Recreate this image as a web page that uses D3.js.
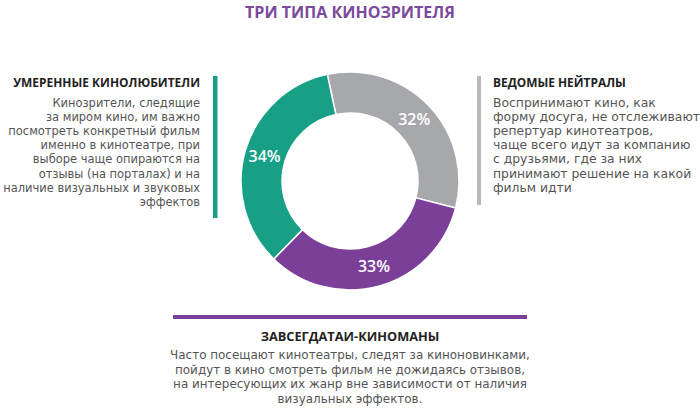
<!DOCTYPE html>
<html><head><meta charset="utf-8">
<script src="https://cdn.jsdelivr.net/npm/d3@7/dist/d3.min.js"></script>
<style>body{margin:0;background:#fff}svg{display:block}</style>
</head><body>
<svg id="c" width="700" height="413"></svg>
<script>
const title = "ТРИ ТИПА КИНОЗРИТЕЛЯ";
const categories = ["Ведомые нейтралы", "Завсегдатаи-киноманы", "Умеренные кинолюбители"];
const values = [32, 33, 34];
const labels = ["32%", "33%", "34%"];
const colors = ["#a7a8ab", "#7b3f99", "#17a086"];
const leftHead = "УМЕРЕННЫЕ КИНОЛЮБИТЕЛИ";
const leftText = ["Кинозрители, следящие","за миром кино, им важно","посмотреть конкретный фильм","именно в кинотеатре, при","выборе чаще опираются на","отзывы (на порталах) и на","наличие визуальных и звуковых","эффектов"];
const rightHead = "ВЕДОМЫЕ НЕЙТРАЛЫ";
const rightText = ["Воспринимают кино, как","форму досуга, не отслеживают","репертуар кинотеатров,","чаще всего идут за компанию","с друзьями, где за них","принимают решение на какой","фильм идти"];
const bottomHead = "ЗАВСЕГДАТАИ-КИНОМАНЫ";
const bottomText = ["Часто посещают кинотеатры, следят за киноновинками,","пойдут в кино смотреть фильм не дожидаясь отзывов,","на интересующих их жанр вне зависимости от наличия","визуальных эффектов."];

const svg = d3.select("#c");
const headFont = "'Open Sans', sans-serif";
const bodyFont = "'DejaVu Sans', sans-serif";
const textCol = "#555555";

// scale font-size of a selection so its widest line equals target width
function fit(sel, target){
  let w = 0;
  sel.each(function(){ w = Math.max(w, this.getComputedTextLength()); });
  const fs = parseFloat(sel.attr("font-size"));
  sel.attr("font-size", fs * target / w);
}

fit(svg.append("text").attr("x",350).attr("y",18).attr("text-anchor","middle")
  .attr("font-family",headFont).attr("font-weight","bold").attr("font-size",17)
  .attr("fill","#7b4a9d").text(title), 210);

const cx = 350, cy = 181, rOut = 109, rIn = 68;
const pie = d3.pie().sort(null).value(d=>d).startAngle(-12*Math.PI/180).endAngle(348*Math.PI/180);
const arc = d3.arc().innerRadius(rIn).outerRadius(rOut);
const lab = d3.arc().innerRadius(89).outerRadius(89);
const g = svg.append("g").attr("transform",`translate(${cx},${cy})`);
const arcs = pie(values);
g.selectAll("path").data(arcs).join("path").attr("d",arc)
  .attr("fill",(d,i)=>colors[i]).attr("stroke","#fff").attr("stroke-width",1.5);
const pl = g.selectAll("text").data(arcs).join("text")
  .attr("transform",d=>`translate(${lab.centroid(d)})`)
  .attr("text-anchor","middle").attr("dy","0.36em")
  .attr("font-family",headFont).attr("font-weight",600).attr("font-size",16)
  .attr("fill","#fff").text((d,i)=>labels[i]);
fit(pl, 32);

// side bars
svg.append("rect").attr("x",213).attr("y",76).attr("width",4.5).attr("height",142).attr("fill",colors[2]);
svg.append("rect").attr("x",477).attr("y",76).attr("width",4).attr("height",129).attr("fill","#b8b9bc");
svg.append("rect").attr("x",173).attr("y",315).attr("width",354).attr("height",4).attr("fill",colors[1]);

function block(x, y0, anchor, head, lines, hw, bw, lh, gap){
  const h = svg.append("text").attr("x",x).attr("y",y0).attr("text-anchor",anchor)
    .attr("font-family",headFont).attr("font-weight","bold").attr("font-size",13)
    .attr("fill","#222").text(head);
  fit(h, hw);
  const b = svg.append("g").selectAll("text").data(lines).join("text")
    .attr("x",x).attr("y",(d,i)=>y0+gap+i*lh).attr("text-anchor",anchor)
    .attr("font-family",bodyFont).attr("font-size",12).attr("fill",textCol).text(d=>d);
  fit(b, bw);
}
block(200, 87, "end", leftHead, leftText, 187, 197, 14.1, 20);
block(493, 87, "start", rightHead, rightText, 133, 207, 14.1, 20);
block(350, 341, "middle", bottomHead, bottomText, 179, 360, 14.5, 18);
</script>
</body></html>
